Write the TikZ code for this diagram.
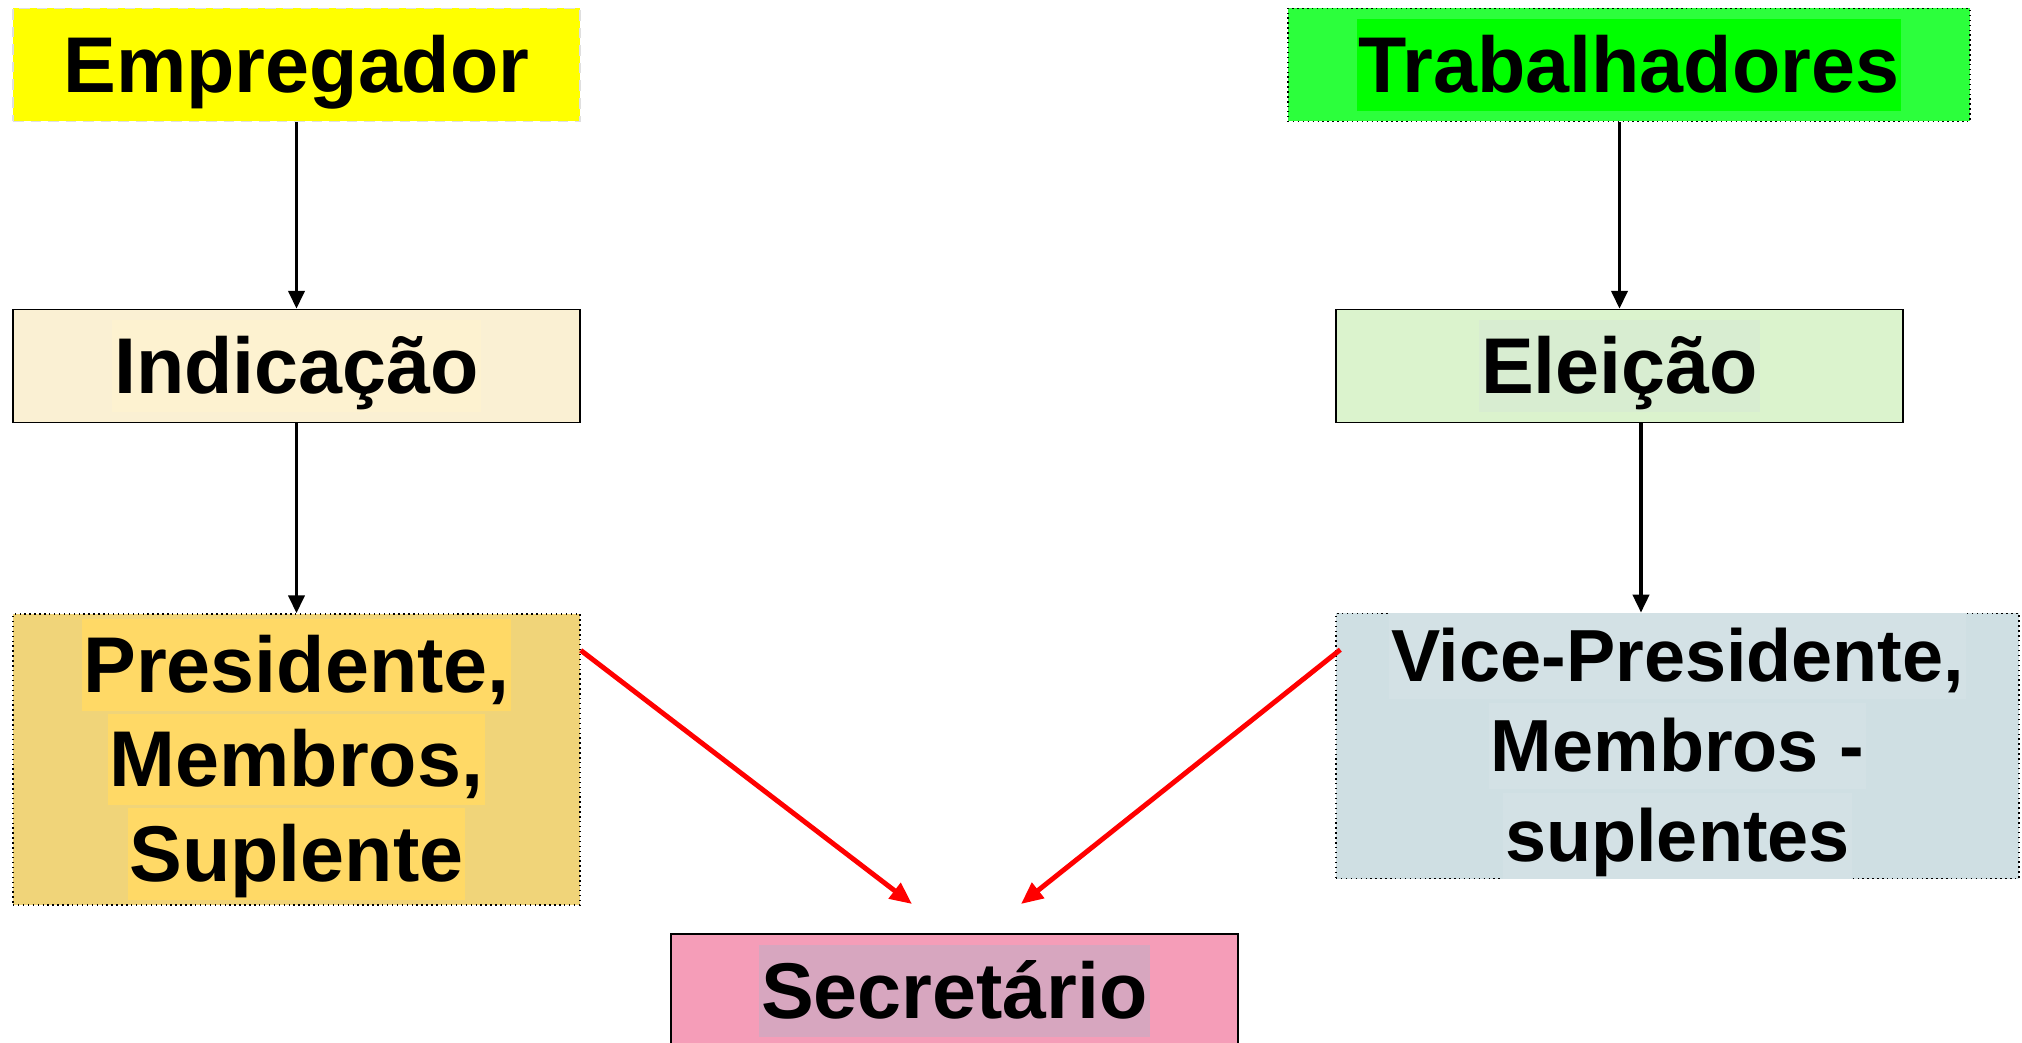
\documentclass[tikz,border=0pt]{standalone}
\usepackage{fontspec}
\setmainfont{Liberation Sans}
\usetikzlibrary{arrows.meta}
\usetikzlibrary{positioning}
\definecolor{empamarelo}{HTML}{FFFF00}
\definecolor{trabverde}{HTML}{2CFF3C}
\definecolor{trabhl}{HTML}{00FF00}
\definecolor{indbox}{HTML}{FAF0D3}
\definecolor{indhl}{HTML}{FDF2D0}
\definecolor{elebox}{HTML}{DBF3CD}
\definecolor{elehl}{HTML}{D8EDD1}
\definecolor{presbox}{HTML}{F0D479}
\definecolor{preshl}{HTML}{FFD966}
\definecolor{vicebox}{HTML}{CFDFE3}
\definecolor{vicehl}{HTML}{D3E1E5}
\definecolor{secbox}{HTML}{F59DB8}
\definecolor{sechl}{HTML}{D7A6BF}
\setlength{\fboxsep}{0.5pt}
\newcommand{\hlinha}[2]{\colorbox{#1}{\rule[-0.212em]{0pt}{1.117em}#2}}

\begin{document}
\begin{tikzpicture}[
  caixa/.style={minimum width=5.67cm, minimum height=1.13cm, inner sep=0pt, align=center,
    font=\fontsize{22.5}{27}\selectfont\bfseries},
  seta/.style={black, line width=1.1pt, -{Triangle[length=1.8mm, width=1.6mm]}},
  setavermelha/.style={red, line width=1.4pt, -{Triangle[length=2.2mm, width=1.9mm]}}]
\clip (0,0) rectangle (20.22,-10.43);
% topo
\node[caixa, fill=empamarelo, draw=gray!25, densely dashed] (emp) at (2.965,-.65) {\hlinha{empamarelo}{Empregador}};
\node[caixa, minimum width=6.82cm, fill=trabverde, draw=black, densely dotted] (trab) at (16.29,-.65) {\hlinha{trabhl}{Trabalhadores}};
% meio
\node[caixa, fill=indbox, draw=black, thin] (ind) at (2.965,-3.66) {\hlinha{indhl}{Indicação}};
\node[caixa, fill=elebox, draw=black, thin] (ele) at (16.195,-3.66) {\hlinha{elehl}{Eleição}};
% membros
\node[caixa, minimum height=2.91cm, fill=presbox, draw=black, densely dotted] (pres) at (2.965,-7.595)
  {\hlinha{preshl}{Presidente,}\\ \hlinha{preshl}{Membros,}\\ \hlinha{preshl}{Suplente}};
\node[caixa, minimum width=6.83cm, minimum height=2.64cm, fill=vicebox, draw=black, densely dotted,
  font=\fontsize{21}{25.5}\selectfont\bfseries] (vice) at (16.775,-7.46)
  {\hlinha{vicehl}{Vice-Presidente,}\\ \hlinha{vicehl}{Membros -}\\ \hlinha{vicehl}{suplentes}};
\node[caixa, minimum height=1.14cm, fill=secbox, draw=black, thin] (sec) at (9.545,-9.91) {\hlinha{sechl}{Secretário}};

\draw[seta] (emp) -- (ind);
\draw[seta] (ind) -- (pres);
\draw[seta] (trab.south -| ele.north) -- (ele);
\draw[seta] ([xshift=.215cm]ele.south) -- ([xshift=.215cm]ele.south |- vice.north);

\coordinate (sa) at (9.12,-9.04);
\coordinate (sb) at (10.21,-9.04);
\draw[setavermelha] ([yshift=-.37cm]pres.north east) -- (sa);
\draw[setavermelha] ([xshift=.05cm,yshift=-.37cm]vice.north west) -- (sb);

\end{tikzpicture}
\end{document}
